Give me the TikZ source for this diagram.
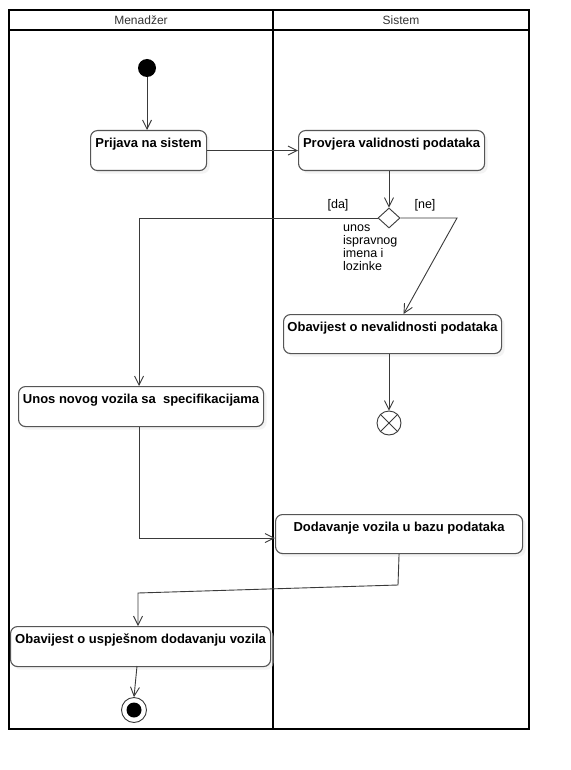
\documentclass[tikz,border=0pt]{standalone}
\usepackage{fontspec}
\setmainfont{Liberation Sans}
\usetikzlibrary{arrows.meta,shapes.geometric,calc,shadows}
\definecolor{boxline}{HTML}{555555}
\definecolor{flowline}{HTML}{3A3A3A}
\definecolor{lanetext}{HTML}{333333}
\tikzset{
  actbox/.style={draw=boxline, line width=1.1pt, rounded corners=7pt, fill=white,
    anchor=north west, inner sep=0pt,
    drop shadow={shadow xshift=3pt, shadow yshift=-3pt, fill=black!9}},
  acttext/.style={font=\fontsize{13}{15}\selectfont\bfseries, anchor=north, inner sep=0pt, yshift=-8pt},
  flow/.style={draw=flowline, line width=0.9pt, -{Straight Barb[length=9pt,width=9pt]}},
  plain/.style={draw=flowline, line width=0.9pt},
  lane/.style={draw=black, line width=2pt},
  guard/.style={font=\fontsize{12.5}{13}\selectfont, inner sep=0pt},
  lanehead/.style={font=\fontsize{12}{13}\selectfont, text=lanetext, inner sep=0pt}
}
\begin{document}
\begin{tikzpicture}[x=1pt,y=-1pt]
\useasboundingbox[fill=white] (0,0) rectangle (570,770);

% swimlanes
\draw[lane] (9,10) rectangle (529,729);
\draw[lane] (9,30) -- (529,30);
\draw[lane] (273,10) -- (273,729);
\node[lanehead] (hm) at (141,20) {Menadžer};
\node[lanehead] (hs) at (401,20) {Sistem};

% nodes
\node[circle, fill=black, minimum size=18pt, inner sep=0pt] (init) at (147,68) {};
\node[actbox, minimum width=116pt, minimum height=40pt,
  label={[acttext]north:Prijava na sistem}] (prijava) at (90,130) {};
\node[actbox, minimum width=186pt, minimum height=40pt,
  label={[acttext]north:Provjera validnosti podataka}] (provjera) at (298,130) {};
\node[diamond, draw=flowline, line width=0.9pt, fill=white, minimum width=22pt, minimum height=20pt, inner sep=0pt] (dec) at (389,218) {};
\node[actbox, minimum width=218pt, minimum height=39pt,
  label={[acttext]north:Obavijest o nevalidnosti podataka}] (neval) at (283,314) {};
\node[circle, draw=flowline, line width=0.9pt, fill=white, minimum size=24pt, inner sep=0pt] (ff) at (389,423) {};
\node[actbox, minimum width=245pt, minimum height=40pt,
  label={[acttext]north:Unos novog vozila sa \ specifikacijama}] (unos) at (18,386) {};
\node[actbox, minimum width=247pt, minimum height=39pt,
  label={[acttext]north:Dodavanje vozila u bazu podataka}] (dod) at (275,514) {};
\node[actbox, minimum width=260pt, minimum height=40pt,
  label={[acttext]north:Obavijest o uspješnom dodavanju vozila}] (usp) at (10,626) {};
\node[circle, draw=flowline, line width=0.9pt, fill=white, minimum size=25pt, inner sep=0pt] (fin) at (134,710) {};
\node[circle, fill=black, minimum size=15pt, inner sep=0pt] (fininner) at (134,710) {};

% flow final cross
\draw[plain] (ff.north west) -- (ff.south east);
\draw[plain] (ff.north east) -- (ff.south west);

% labels
\node[guard] (lda) at (338,205) {[da]};
\node[guard] (lne) at (425,205) {[ne]};
\node[guard, anchor=north west, align=left] (gtext) at (343,225) {unos\\ispravnog\\imena i\\lozinke};

% coordinates
\coordinate (neb) at (457,218);
\coordinate (netip) at ($(neval.north)+(11,0)$);
\coordinate (b1) at (398,585);
\coordinate (b2) at (138,593);
\coordinate (b3) at (138,626);
\coordinate (uspout) at (137,666);

% connectors
\draw[flow] (init) -- (init |- prijava.north);
\draw[flow] (prijava.east) -- (provjera.west);
\draw[flow] (provjera.south -| dec) -- (dec.north);
\draw[flow] (dec.west) -| ($(unos.north)+(-2,0)$);
\draw[flow] (dec.east) -- (neb) -- (netip);
\draw[flow] (neval.south -| ff) -- (ff.north);
\draw[flow] ($(unos.south)+(-2,0)$) |- ($(dod.west)+(0,4)$);
\draw[flow] (dod.south) -- (b1) -- (b2) -- (b3);
\draw[flow] (uspout) -- (fin.north);
\end{tikzpicture}
\end{document}
